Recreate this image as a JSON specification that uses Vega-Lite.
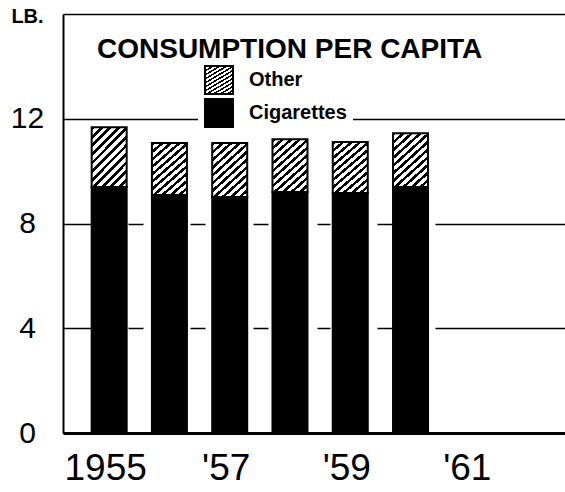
{
  "$schema": "https://vega.github.io/schema/vega-lite/v6.json",
  "width": 502,
  "height": 419,
  "autosize": {"type": "none"},
  "padding": {"left": 63, "top": 14, "right": 0, "bottom": 59},
  "background": "white",
  "config": {"view": {"stroke": null}, "font": "Liberation Sans"},
  "title": {
    "text": "CONSUMPTION PER CAPITA",
    "anchor": "start",
    "frame": "group",
    "dx": 34,
    "offset": -80,
    "fontSize": 28,
    "fontWeight": "bold",
    "font": "Liberation Sans",
    "color": "black",
    "baseline": "alphabetic"
  },
  "data": {
    "values": [
      {"year": 1955, "type": "Cigarettes", "lb": 9.39},
      {"year": 1955, "type": "Other", "lb": 2.29},
      {"year": 1956, "type": "Cigarettes", "lb": 9.09},
      {"year": 1956, "type": "Other", "lb": 1.98},
      {"year": 1957, "type": "Cigarettes", "lb": 9.01},
      {"year": 1957, "type": "Other", "lb": 2.06},
      {"year": 1958, "type": "Cigarettes", "lb": 9.2},
      {"year": 1958, "type": "Other", "lb": 2.02},
      {"year": 1959, "type": "Cigarettes", "lb": 9.16},
      {"year": 1959, "type": "Other", "lb": 1.95},
      {"year": 1960, "type": "Cigarettes", "lb": 9.39},
      {"year": 1960, "type": "Other", "lb": 2.06}
    ]
  },
  "mark": {"type": "bar", "size": 35, "stroke": "black", "strokeWidth": 2},
  "encoding": {
    "x": {
      "field": "year",
      "type": "quantitative",
      "scale": {"domain": [1954.317, 1962.48], "nice": false, "zero": false},
      "axis": {
        "values": [1955, 1957, 1959, 1961],
        "labelExpr": "datum.value == 1955 ? '1955' : \"'\" + slice(toString(datum.value), 2)",
        "title": null,
        "grid": false,
        "ticks": false,
        "labelFont": "Liberation Sans",
        "labelFontSize": 37,
        "labelPadding": 17,
        "labelOffset": -4,
        "labelColor": "black",
        "labelFlush": false,
        "labelOverlap": false,
        "domainWidth": 3,
        "domainColor": "black"
      }
    },
    "y": {
      "field": "lb",
      "type": "quantitative",
      "stack": "zero",
      "scale": {"domain": [0, 16], "nice": false},
      "axis": {
        "values": [0, 4, 8, 12, 16],
        "labelExpr": "datum.value == 16 ? '' : datum.label",
        "grid": true,
        "gridColor": "black",
        "gridWidth": 1.5,
        "gridDash": {
          "condition": {"test": "datum.value == 4 || datum.value == 8", "value": [30, 35, 15, 47, 15, 48, 15, 49, 13, 47, 15, 43, 200]},
          "value": []
        },
        "ticks": false,
        "domainWidth": 2,
        "domainColor": "black",
        "labelFontSize": 30,
        "labelAlign": "center",
        "labelPadding": 36,
        "labelColor": "black",
        "title": "LB.",
        "titleAngle": 0,
        "titleX": -36,
        "titleY": 2,
        "titleFontSize": 20,
        "titleFontWeight": "bold",
        "titleBaseline": "middle",
        "titleAlign": "center",
        "titleColor": "black"
      }
    },
    "fill": {
      "field": "type",
      "type": "nominal",
      "scale": {
        "domain": ["Other", "Cigarettes"],
        "range": [
          {"expr": "{gradient: 'linear', x1: 0, y1: 0, x2: 1, y2: 1.7, stops: [{offset: 0, color: 'black'}, {offset: 0.028, color: 'black'}, {offset: 0.028, color: 'white'}, {offset: 0.0625, color: 'white'}, {offset: 0.0625, color: 'black'}, {offset: 0.0905, color: 'black'}, {offset: 0.0905, color: 'white'}, {offset: 0.125, color: 'white'}, {offset: 0.125, color: 'black'}, {offset: 0.153, color: 'black'}, {offset: 0.153, color: 'white'}, {offset: 0.1875, color: 'white'}, {offset: 0.1875, color: 'black'}, {offset: 0.2155, color: 'black'}, {offset: 0.2155, color: 'white'}, {offset: 0.25, color: 'white'}, {offset: 0.25, color: 'black'}, {offset: 0.278, color: 'black'}, {offset: 0.278, color: 'white'}, {offset: 0.3125, color: 'white'}, {offset: 0.3125, color: 'black'}, {offset: 0.3405, color: 'black'}, {offset: 0.3405, color: 'white'}, {offset: 0.375, color: 'white'}, {offset: 0.375, color: 'black'}, {offset: 0.403, color: 'black'}, {offset: 0.403, color: 'white'}, {offset: 0.4375, color: 'white'}, {offset: 0.4375, color: 'black'}, {offset: 0.4655, color: 'black'}, {offset: 0.4655, color: 'white'}, {offset: 0.5, color: 'white'}, {offset: 0.5, color: 'black'}, {offset: 0.528, color: 'black'}, {offset: 0.528, color: 'white'}, {offset: 0.5625, color: 'white'}, {offset: 0.5625, color: 'black'}, {offset: 0.5905, color: 'black'}, {offset: 0.5905, color: 'white'}, {offset: 0.625, color: 'white'}, {offset: 0.625, color: 'black'}, {offset: 0.653, color: 'black'}, {offset: 0.653, color: 'white'}, {offset: 0.6875, color: 'white'}, {offset: 0.6875, color: 'black'}, {offset: 0.7155, color: 'black'}, {offset: 0.7155, color: 'white'}, {offset: 0.75, color: 'white'}, {offset: 0.75, color: 'black'}, {offset: 0.778, color: 'black'}, {offset: 0.778, color: 'white'}, {offset: 0.8125, color: 'white'}, {offset: 0.8125, color: 'black'}, {offset: 0.8405, color: 'black'}, {offset: 0.8405, color: 'white'}, {offset: 0.875, color: 'white'}, {offset: 0.875, color: 'black'}, {offset: 0.903, color: 'black'}, {offset: 0.903, color: 'white'}, {offset: 0.9375, color: 'white'}, {offset: 0.9375, color: 'black'}, {offset: 0.9655, color: 'black'}, {offset: 0.9655, color: 'white'}, {offset: 1, color: 'white'}]}"},
          "black"
        ]
      },
      "legend": {
        "orient": "none",
        "legendX": 135,
        "legendY": 45,
        "padding": 6,
        "fillColor": "white",
        "title": null,
        "symbolType": "square",
        "symbolSize": 784,
        "symbolStrokeColor": "black",
        "symbolStrokeWidth": 2,
        "labelFontSize": 20,
        "labelFontWeight": "bold",
        "labelOffset": 15,
        "labelColor": "black",
        "rowPadding": -7
      }
    },
    "order": {"field": "type", "sort": "ascending"}
  }
}
